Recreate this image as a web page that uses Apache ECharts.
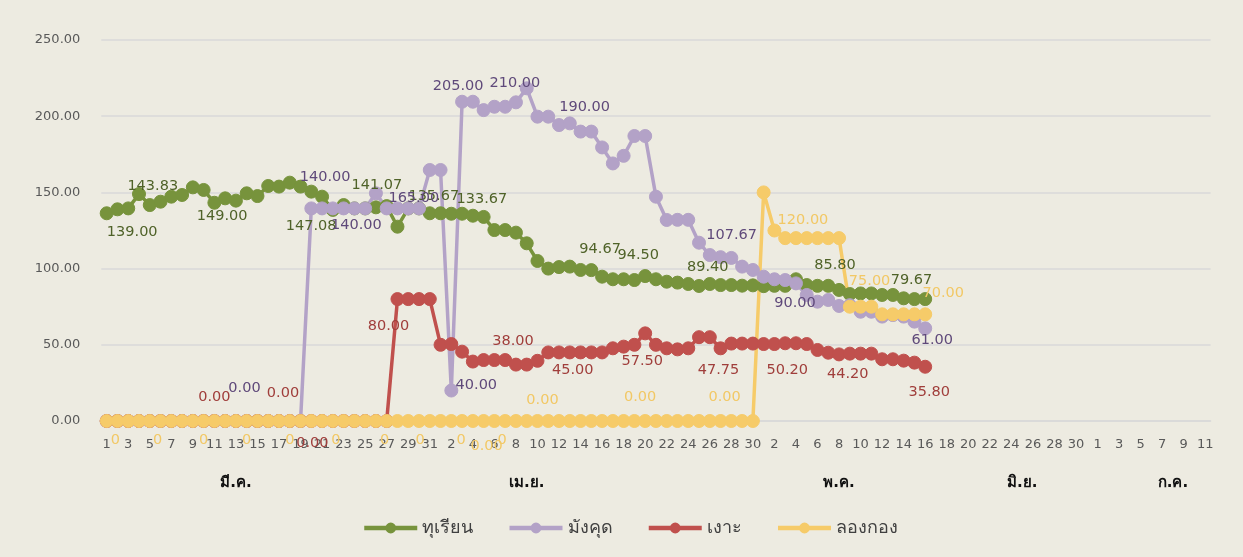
<!DOCTYPE html>
<html>
<head>
<meta charset="utf-8">
<script src="https://cdn.jsdelivr.net/npm/echarts@6/dist/echarts.min.js"></script>
<style>
html,body{margin:0;padding:0;background:#EDEBE1;}
#chart{width:1243px;height:557px;}
</style>
</head>
<body>
<div id="chart"></div>
<script>
// ---------- DATA ----------
const categories = [
 '1','2','3','4','5','6','7','8','9','10','11','12','13','14','15','16','17','18','19','20','21','22','23','24','25','26','27','28','29','30','31',
 '1','2','3','4','5','6','7','8','9','10','11','12','13','14','15','16','17','18','19','20','21','22','23','24','25','26','27','28','29','30',
 '1','2','3','4','5','6','7','8','9','10','11','12','13','14','15','16','17','18','19','20','21','22','23','24','25','26','27','28','29','30','31',
 '1','2','3','4','5','6','7','8','9','10','11'
];
const monthNames = ['มี.ค.','เม.ย.','พ.ค.','มิ.ย.','ก.ค.'];
const seriesNames = ['ทุเรียน','มังคุด','เงาะ','ลองกอง'];
const yTicks = [0, 50, 100, 150, 200, 250];

const durian = [136.3,138.9,139.5,148.9,141.7,143.9,147.2,148.3,153.3,151.6,
 143.2,146.1,144.6,149.4,147.6,154.2,153.8,156.4,153.8,150.5,
 147.2,138.5,141.7,139.5,139.5,140.2,141,127.5,139.5,139.5,
 136.3,136.3,136,136,134.7,133.9,125.3,125.3,123.6,116.6,
 105,100,101,101.3,99.1,99,94.7,93,93,92.5,
 95.1,93,91.4,90.8,89.9,88.6,89.9,89.2,89.2,88.8,
 89,88.5,88.7,88.7,93,89.2,88.7,88.7,86,83.3,
 83.7,83.7,82.7,82.7,80.5,80,80];

const mangosteen = [0,0,0,0,0,0,0,0,0,0,
 0,0,0,0,0,0,0,0,0,139.5,
 139.5,139.5,139.5,139.5,139.5,149.4,139.5,139.5,139.5,139.5,
 164.7,164.7,20,209.5,209.5,204,206.2,206.2,209.1,218.3,
 199.7,199.7,194.2,195.3,189.9,189.9,179.5,169,174,187,
 187,147.2,131.9,132,132,117,108.9,107.5,107,101.3,
 99.1,94.7,93,92.5,90.3,82.7,78.3,79.4,75.5,76,
 71.7,71.7,68.5,69.5,68.5,65.2,60.8];

const rambutan = [0,0,0,0,0,0,0,0,0,0,
 0,0,0,0,0,0,0,0,0,0,
 0,0,0,0,0,0,0,80,80,80,
 80,50,50.5,45.5,39,40,40,40,37,37,
 39.5,45,45,45,45,45,45,47.7,48.8,50,
 57.5,50,47.7,47,47.7,55,55,47.7,50.8,50.8,
 50.8,50.5,50.5,51,51,50.5,46.6,44.8,43.7,44.2,
 44.2,44.2,40.5,40.5,39.6,38.3,35.6];

const longkong = [0,0,0,0,0,0,0,0,0,0,
 0,0,0,0,0,0,0,0,0,0,
 0,0,0,0,0,0,0,0,0,0,
 0,0,0,0,0,0,0,0,0,0,
 0,0,0,0,0,0,0,0,0,0,
 0,0,0,0,0,0,0,0,0,0,
 0,150,125,120,120,120,120,120,120,75,
 75,75,70,70,70,70,70];

// data-label texts: [category index, text]
const durianLabels = [[2,'139.00'],[4,'143.83'],[11,'149.00'],[20,'147.08'],[25,'141.07'],[30,'135.67'],[34,'133.67'],[46,'94.67'],[50,'94.50'],[56,'89.40'],[68,'85.80'],[75,'79.67']];
const mangosteenLabels = [[14,'0.00'],[20,'140.00'],[23,'140.00'],[30,'165.00'],[32,'40.00'],[33,'205.00'],[38,'210.00'],[44,'190.00'],[57,'107.67'],[64,'90.00'],[76,'61.00']];
const rambutanLabels = [[10,'0.00'],[16,'0.00'],[19,'0.00'],[27,'80.00'],[38,'38.00'],[43,'45.00'],[50,'57.50'],[57,'47.75'],[63,'50.20'],[69,'44.20'],[76,'35.80']];
const longkongLabels = [[1,'0'],[5,'0'],[9,'0'],[13,'0'],[17,'0'],[21,'0'],[26,'0'],[29,'0'],[33,'0'],[35,'0.00'],[37,'0'],[40,'0.00'],[50,'0.00'],[57,'0.00'],[64,'120.00'],[70,'75.00'],[76,'70.00']];

// ---------- LAYOUT / STYLE ----------
const monthLabelAt = [12, 39, 68, 85, 99];
const durianOffsets = [[4,24],[3,-19],[-3,18],[-11,30],[1,-22],[4,-17],[9,-16],[-2,-27],[-7,-21],[-2,-17],[-4,-25],[-3,-19]];
const mangosteenOffsets = [[-13,-33],[3,-31],[2,17],[-16,28],[25,-5],[-4,-15],[-1,-19],[4,-24],[11,-22],[-1,20],[7,12]];
const rambutanOffsets = [[0,-24],[4,-28],[1,22],[-9,27],[-3,-23],[3,18],[-3,28],[-2,22],[2,27],[-2,21],[4,25]];
const longkongOffsets = [[-2,19],[-3,19],[0,19],[0,19],[0,19],[3,19],[-2,19],[1,19],[-1,19],[3,25],[-3,19],[5,-21],[-5,-24],[4,-24],[7,-18],[9,-25],[18,-21]];

const colors = ['#77933C','#B3A2C7','#C0504D','#F6CB69'];
const labelColors = ['#4F6228','#5F497A','#A03E3B','#F2C865'];
const FONT = 'DejaVu Sans, Tahoma, sans-serif';

function buildData(values, labels, offsets, lc) {
  const items = values.map(v => ({ value: v }));
  labels.forEach(([i, text], k) => {
    items[i] = {
      value: values[i],
      label: {
        show: true, formatter: text, position: 'inside',
        offset: offsets[k], color: lc, fontSize: 14.5, fontFamily: FONT
      }
    };
  });
  return items;
}

const allValues = [durian, mangosteen, rambutan, longkong];
const allLabels = [durianLabels, mangosteenLabels, rambutanLabels, longkongLabels];
const allOffsets = [durianOffsets, mangosteenOffsets, rambutanOffsets, longkongOffsets];

const series = seriesNames.map((name, s) => ({
  name, type: 'line', xAxisIndex: 0,
  data: buildData(allValues[s], allLabels[s], allOffsets[s], labelColors[s]),
  symbol: 'circle', symbolSize: 13, showAllSymbol: true,
  lineStyle: { color: colors[s], width: 3.5 },
  itemStyle: { color: colors[s], borderColor: colors[s], borderWidth: 1 },
  label: { show: false },
  emphasis: { disabled: true },
  animation: false
}));

const chart = echarts.init(document.getElementById('chart'), null, { renderer: 'canvas' });
chart.setOption({
  backgroundColor: '#EDEBE1',
  animation: false,
  grid: { left: 101.3, right: 32.4, top: 40, bottom: 136, containLabel: false },
  xAxis: [{
    type: 'category', data: categories, boundaryGap: true,
    axisLine: { show: true, lineStyle: { color: '#D9D9D9', width: 1.5 } },
    axisTick: { show: false },
    axisLabel: { interval: 1, margin: 17, color: '#595959', fontSize: 13, fontFamily: FONT }
  }, {
    type: 'category', data: categories, boundaryGap: true, position: 'bottom', offset: 0,
    axisLine: { show: false }, axisTick: { show: false },
    axisLabel: {
      interval: (i) => monthLabelAt.indexOf(i) >= 0,
      formatter: (v, i) => { const k = monthLabelAt.indexOf(i); return k >= 0 ? monthNames[k] : ''; },
      margin: 55, color: '#111111', fontSize: 15, fontWeight: 'bold', fontFamily: FONT
    }
  }],
  yAxis: {
    type: 'value', min: yTicks[0], max: yTicks[yTicks.length-1], interval: 50,
    axisLine: { show: false }, axisTick: { show: false },
    axisLabel: { formatter: v => v.toFixed(2), color: '#595959', fontSize: 13, margin: 21, fontFamily: FONT },
    splitLine: { lineStyle: { color: '#D9D9D9', width: 1.5 } }
  },
  legend: {
    data: seriesNames, left: 357, top: 514,
    itemWidth: 53, itemHeight: 11, itemGap: 34,
    lineStyle: { width: 4.5 },
    textStyle: { color: '#404040', fontSize: 18, fontFamily: FONT }
  },
  series
});
</script>
</body>
</html>
